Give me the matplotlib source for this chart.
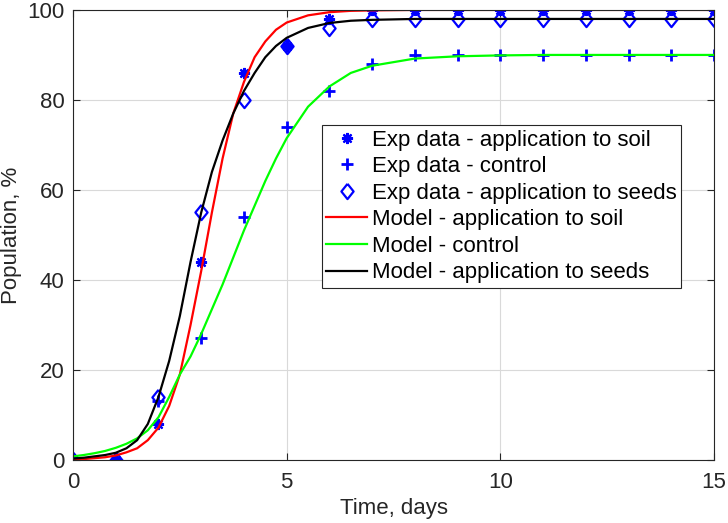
import numpy as np
import matplotlib.pyplot as plt

plt.rcParams['font.family'] = ['Liberation Sans', 'DejaVu Sans']

# experimental data
t_exp = [0, 1, 2, 3, 4, 5, 6, 7, 8, 9, 10, 11, 12, 13, 14, 15]
soil_exp = [0, 0, 8, 44, 86, 92, 98, 100, 100, 100, 100, 100, 100, 100, 100, 100]
control_exp = [0, 0, 13, 27, 54, 74, 82, 88, 90, 90, 90, 90, 90, 90, 90, 90]
seeds_exp = [0, 0, 14, 55, 80, 92, 96, 98, 98, 98, 98, 98, 98, 98, 98, 98]

# model curves
t_mod = [0, 0.25, 0.5, 0.75, 1, 1.25, 1.5, 1.75, 2, 2.25, 2.5, 2.75, 3, 3.25, 3.5,
         3.75, 4, 4.25, 4.5, 4.75, 5, 5.5, 6, 6.5, 7, 8, 9, 10, 11, 12, 13, 14, 15]
soil_mod = [0.1, 0.2, 0.4, 0.6, 1.0, 1.7, 2.6, 4.4, 7.2, 12, 19, 30, 42, 55, 67,
            77, 84, 89.5, 93, 95.6, 97.2, 98.8, 99.5, 99.8, 99.9, 100, 100, 100, 100, 100, 100, 100, 100]
control_mod = [0.8, 1.1, 1.5, 2.0, 2.7, 3.6, 4.8, 6.6, 9.5, 14, 19, 23, 28, 33.5, 39,
               45, 51, 56.5, 62, 67, 71.5, 78.5, 83, 86, 87.6, 89.2, 89.7, 89.9, 90, 90, 90, 90, 90]
seeds_mod = [0.3, 0.5, 0.8, 1.1, 1.6, 2.6, 4.4, 8, 14, 22, 32, 44, 55, 64, 71,
             77, 82, 86, 89.5, 92, 93.8, 96, 97.1, 97.6, 97.8, 98, 98, 98, 98, 98, 98, 98, 98]

fig = plt.figure(figsize=(7.28, 5.23), dpi=100)
ax = fig.add_axes([0.1003, 0.1205, 0.8805, 0.8605])

blue = (0, 0, 1)
# matlab-like diamond, a bit taller than wide
diamond = [(0, 1), (0.8, 0), (0, -1), (-0.8, 0), (0, 1)]

ax.plot(t_exp, soil_exp, linestyle='none', marker=(8, 2, 0), markersize=8,
        markeredgewidth=1.6, color=blue, label='Exp data - application to soil')
ax.plot(t_exp, control_exp, linestyle='none', marker='+', markersize=9,
        markeredgewidth=2, color=blue, label='Exp data - control')
ax.plot(t_exp, seeds_exp, linestyle='none', marker=diamond, markersize=11,
        markeredgewidth=1.6, markerfacecolor='none', markeredgecolor=blue,
        label='Exp data - application to seeds')
ax.plot(t_mod, soil_mod, color=(1, 0, 0), lw=1.6, label='Model - application to soil')
ax.plot(t_mod, control_mod, color=(0, 1, 0), lw=1.6, label='Model - control')
ax.plot(t_mod, seeds_mod, color='k', lw=1.6, label='Model - application to seeds')

ax.set_xlim(0, 15)
ax.set_ylim(0, 100)
ax.set_xticks([0, 5, 10, 15])
ax.set_yticks([0, 20, 40, 60, 80, 100])
ax.grid(True, color=(0.85, 0.85, 0.85), lw=0.8)
ax.set_axisbelow(True)

axcol = (0.15, 0.15, 0.15)
for s in ax.spines.values():
    s.set_color(axcol)
    s.set_linewidth(0.8)
ax.tick_params(direction='in', length=5, width=0.8, colors=axcol, labelsize=16,
               top=True, right=True)
ax.tick_params(axis='x', pad=9)
ax.tick_params(axis='y', pad=6)

ax.set_xlabel('Time, days', fontsize=16, color=axcol, labelpad=3)
ax.set_ylabel('Population, %', fontsize=16, color=axcol, labelpad=4)

leg = ax.legend(loc='upper left', bbox_to_anchor=(0.388, 0.744), fontsize=16,
                frameon=True, fancybox=False, edgecolor=axcol, framealpha=1,
                handlelength=1.85, handletextpad=0.2, labelspacing=0.25,
                borderpad=0.2, borderaxespad=0)
leg.get_frame().set_linewidth(0.8)

fig.savefig('out.png', dpi=100)
